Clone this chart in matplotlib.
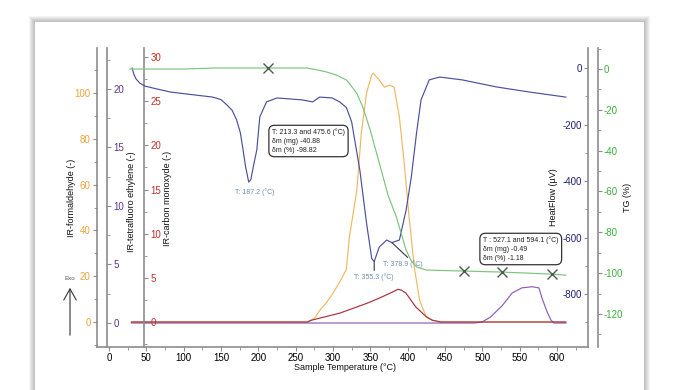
import matplotlib
matplotlib.use("Agg")
import matplotlib.pyplot as plt
import numpy as np
from matplotlib.patches import Rectangle
from matplotlib.ticker import MultipleLocator

plt.rcParams['font.family'] = ['Liberation Sans', 'DejaVu Sans']
plt.rcParams['axes.unicode_minus'] = False

# heat flow (uV) vs sample temperature
T_hf = [31, 33, 36, 41, 48, 59, 82, 104, 139, 150, 158, 165, 171, 176, 179, 183, 187.2, 190, 194,
        198, 202, 211, 225, 259, 273, 282, 299, 309, 318, 325, 336, 345, 352, 355.3, 362, 372,
        378.9, 389, 398, 405, 412, 418, 429, 443, 473, 519, 563, 612]
hf = [0, -20, -38, -53, -64, -71, -85, -92, -103, -112, -131, -150, -184, -230, -280, -350, -404, -395, -340,
      -290, -173, -120, -106, -113, -120, -103, -106, -120, -140, -190, -361, -549, -675, -685, -634, -609,
      -618, -609, -503, -386, -230, -113, -42, -32, -42, -67, -85, -103]

# TG (%)
T_tg = [28, 100, 142, 229, 265, 280, 292, 305, 318, 322, 332, 340, 350, 362, 374, 385, 398, 405, 412,
        425, 476, 527, 594, 612]
tg = [0, 0, 0.5, 0.5, 0.5, -0.5, -1.5, -3, -5.4, -7, -12, -18.6, -30, -46, -62, -72.5, -88.7, -94, -97,
      -98.5, -99, -99.5, -100.5, -101]

# IR formaldehyde
T_fa = [30, 268, 272, 276, 282, 290, 299, 310, 318, 322, 332, 338, 345, 352, 354, 362, 369, 376, 382,
        389, 396, 402, 409, 416, 425, 433, 443, 612]
fa = [0, 0, 1, 2, 5, 8, 12, 18, 23, 37, 57.6, 82.5, 100, 108, 108.7, 105.7, 102.6, 103.5, 102.6,
      89.5, 67.7, 45.9, 24, 9.6, 2.2, 0.9, 0, 0]

# IR tetrafluoro ethylene
T_tf = [30, 490, 500, 511, 527, 540, 553, 567, 576, 580, 587, 592, 596, 612]
tf = [0, 0, 0.1, 0.5, 1.5, 2.56, 3.0, 3.1, 3.0, 2.14, 0.94, 0.26, 0, 0]

# IR carbon monoxyde
T_co = [30, 265, 271, 309, 345, 362, 380, 387, 392, 398, 411, 425, 433, 445, 612]
co = [0, 0, 0.2, 1.0, 2.1, 2.7, 3.4, 3.7, 3.6, 3.25, 1.7, 0.6, 0.2, 0, 0]

# evaluation marks on the TG curve
mark_T = [213.3, 475.6, 527.1, 594.1]

W, H = 683, 390
fig = plt.figure(figsize=(W / 100, H / 100), dpi=100)
fig.patch.set_facecolor('white')

def fx(px):
    return px / W

def fy(py):
    return 1 - py / H

# card with soft shadow
cl, cr, ct = 35, 644, 22
for i in range(6, 0, -1):
    fig.patches.append(Rectangle((fx(cl - i), -0.05), fx(cr - cl + 2 * i), fy(ct - i) + 0.05,
                                 transform=fig.transFigure, facecolor='black', alpha=0.045,
                                 edgecolor='none', zorder=-10))
fig.patches.append(Rectangle((fx(cl), -0.05), fx(cr - cl), fy(ct) + 0.05, transform=fig.transFigure,
                             facecolor='white', edgecolor='none', zorder=-9))

axc = '#8c8c8c'
c_fa, c_fa_t = '#f0b860', '#eea33a'
c_tf, c_tf_t = '#8d5db4', '#5c3596'
c_co, c_co_t = '#a8323e', '#c0302a'
c_hf, c_hf_t = '#4e4f9c', '#1e1e78'
c_tg, c_tg_t = '#7cc47c', '#3bb03b'

L, R, B, TOP = 97, 588, 347, 48
ax = fig.add_axes([fx(L), fy(B), fx(R) - fx(L), fy(TOP) - fy(B)])
ax.patch.set_visible(False)
ax.set_xlim(-16.1, 641.7)


def style(a, side, color, major, minor, lo, hi):
    a.set_ylim(lo, hi)
    for s in a.spines.values():
        s.set_visible(False)
    a.spines[side].set_visible(True)
    a.spines[side].set_color(axc)
    a.spines[side].set_linewidth(1.2)
    a.yaxis.set_major_locator(MultipleLocator(major))
    a.yaxis.set_minor_locator(MultipleLocator(minor))
    a.tick_params(axis='y', which='major', length=3, width=0.8, color=axc, labelcolor=color,
                  labelsize=7, pad=1.5)
    a.tick_params(axis='y', which='minor', length=2, width=0.6, color=axc)


style(ax, 'left', c_fa_t, 20, 10, -10.9, 119.7)
ax.spines['bottom'].set_visible(True)
ax.spines['bottom'].set_color(axc)
ax.spines['bottom'].set_linewidth(1.2)
ax.xaxis.set_major_locator(MultipleLocator(50))
ax.xaxis.set_minor_locator(MultipleLocator(25))
ax.tick_params(axis='x', which='major', length=3, width=0.8, color=axc, labelsize=7, pad=1.5)
ax.tick_params(axis='x', which='minor', length=2, width=0.6, color=axc)
ax.set_yticks([0, 20, 40, 60, 80, 100])

ax_tf = ax.twinx()
ax_tf.patch.set_visible(False)
style(ax_tf, 'right', c_tf_t, 5, 2.5, -2.05, 23.5)
ax_tf.spines['right'].set_position(('axes', 10 / (R - L)))
ax_tf.set_yticks([0, 5, 10, 15, 20])

ax_co = ax.twinx()
ax_co.patch.set_visible(False)
style(ax_co, 'right', c_co_t, 5, 2.5, -2.83, 31.02)
ax_co.spines['right'].set_position(('axes', 47 / (R - L)))
ax_co.set_yticks([0, 5, 10, 15, 20, 25, 30])

ax_hf = ax.twinx()
ax_hf.patch.set_visible(False)
ax_hf.yaxis.tick_left()
style(ax_hf, 'left', c_hf_t, 200, 100, -987.6, 70.8)
ax_hf.spines['left'].set_position(('axes', 1.0))
ax_hf.set_yticks([0, -200, -400, -600, -800])

ax_tg = ax.twinx()
ax_tg.patch.set_visible(False)
style(ax_tg, 'right', c_tg_t, 20, 10, -136.2, 10.3)
ax_tg.spines['right'].set_position(('outward', 7))
ax_tg.set_yticks([0, -20, -40, -60, -80, -100, -120])

lw = 0.85
ax_tf.plot(T_tf, tf, color=c_tf, lw=lw)
ax_co.plot(T_co, co, color=c_co, lw=lw)
ax.plot(T_fa, fa, color=c_fa, lw=lw)
ax_tg.plot(T_tg, tg, color=c_tg, lw=lw)
ax_hf.plot(T_hf, hf, color=c_hf, lw=lw)

mark_y = np.interp(mark_T, T_tg, tg)
ax_tg.plot(mark_T, mark_y, ls='none', marker='x', ms=7, mew=1.0, color='#4f5a4f')

# peak labels
pk = '#6d8db0'
ax_hf.text(195, -439, 'T: 187.2 (°C)', fontsize=5, color=pk, ha='center', va='center')
ax_hf.annotate('T: 355.3 (°C)', xy=(355.3, np.interp(355.3, T_hf, hf)), xytext=(355.3, -740),
               fontsize=5, color=pk, ha='center', va='center',
               arrowprops=dict(arrowstyle='-', color='#333355', lw=0.8, shrinkA=0, shrinkB=0))
ax_hf.annotate('T: 378.9 (°C)', xy=(378.9, np.interp(378.9, T_hf, hf)), xytext=(367, -694),
               fontsize=5, color=pk, ha='left', va='center',
               arrowprops=dict(arrowstyle='-', color='#333355', lw=0.8, shrinkA=0, shrinkB=0,
                               relpos=(0.7, 1.0)))

box = dict(boxstyle='round,pad=0.45,rounding_size=0.8', facecolor='white', edgecolor='#333333', lw=0.9)
fig.text(fx(272), fy(141), 'T: 213.3 and 475.6 (°C)\nδm (mg) -40.88\nδm (%) -98.82', fontsize=5,
         ha='left', va='center', linespacing=1.35, bbox=box, color='#222222')
fig.text(fx(483), fy(249), 'T : 527.1 and 594.1 (°C)\nδm (mg) -0.49\nδm (%) -1.18', fontsize=5,
         ha='left', va='center', linespacing=1.35, bbox=box, color='#222222')

# axis titles
lab = dict(fontsize=6.5, rotation=90, ha='center', va='center', color='#111111')
fig.text(fx(72), fy(198), 'IR-formaldehyde (-)', **lab)
fig.text(fx(131), fy(202), 'IR-tetrafluoro ethylene (-)', **lab)
fig.text(fx(168), fy(198), 'IR-carbon monoxyde (-)', **lab)
fig.text(fx(553), fy(197), 'HeatFlow (µV)', **lab)
fig.text(fx(627), fy(197), 'TG (%)', **lab)
fig.text(fx(345), fy(367), 'Sample Temperature (°C)', fontsize=6.5, ha='center', va='center',
         color='#111111')

# exo arrow
ax.annotate('', xy=(fx(70), fy(285)), xytext=(fx(70), fy(338)), xycoords='figure fraction',
            textcoords='figure fraction',
            arrowprops=dict(arrowstyle='->,head_length=0.8,head_width=0.45', color='#333333', lw=0.8))
fig.text(fx(70), fy(279), 'Exo', fontsize=4.5, color='#555555', ha='center', va='center')

fig.savefig('out.png', dpi=100)
